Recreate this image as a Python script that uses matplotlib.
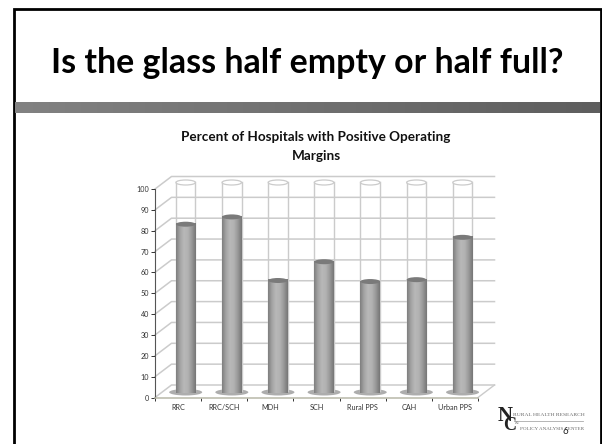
import numpy as np
import matplotlib
matplotlib.use("Agg")
import matplotlib.pyplot as plt
from matplotlib.colors import LinearSegmentedColormap
from matplotlib.patches import Ellipse, Polygon

# chart values
categories = ["RRC", "RRC/SCH", "MDH", "SCH", "Rural PPS", "CAH", "Urban PPS"]
pct_positive = [80, 83.5, 53, 62, 52.5, 53.4, 73.7]
y_ticks = [0, 10, 20, 30, 40, 50, 60, 70, 80, 90, 100]

W, H = 602, 444
plt.rcParams["font.family"] = ["Lato", "DejaVu Sans"]

# ── slide ─────────────────────────────────────────────────
fig = plt.figure(figsize=(W / 100, H / 100), dpi=100, facecolor="white")
slide = fig.add_axes([0, 0, 1, 1])
slide.set_xlim(0, W)
slide.set_ylim(H, 0)
slide.axis("off")

slide.plot([13.5, 13.5, 600.5, 600.5], [H, 9.5, 9.5, H], color="black", lw=2.0,
           solid_joinstyle="miter")
band = np.linspace(0, 1, 256).reshape(1, -1)
slide.imshow(band, extent=(15, 600, 113, 102),
             cmap=LinearSegmentedColormap.from_list("band", ["#828282", "#5e5e5e"]),
             aspect="auto", zorder=2)
slide.set_xlim(0, W)
slide.set_ylim(H, 0)

slide.text(307.5, 63, "Is the glass half empty or half full?", ha="center", va="center",
           fontsize=24.4, fontweight="bold", color="black")
slide.text(316, 137, "Percent of Hospitals with Positive Operating", ha="center", va="center",
           fontsize=9.7, fontweight="bold", color="#111111")
slide.text(316, 156, "Margins", ha="center", va="center",
           fontsize=9.7, fontweight="bold", color="#111111")

# ── logo + page number ────────────────────────────────────
serif = ["Liberation Serif", "DejaVu Serif"]
slide.text(497.5, 416, "N", family=serif, fontsize=15, fontweight="bold", color="#222222", ha="left", va="center")
slide.text(503, 425.5, "C", family=serif, fontsize=13, fontweight="bold", color="#222222", ha="left", va="center")
slide.text(513, 415, "RURAL HEALTH RESEARCH", family=serif, fontsize=3.95, color="#666666", ha="left", va="center")
slide.plot([514, 583], [420.5, 420.5], color="#aaaaaa", lw=0.6)
slide.text(514.5, 423, "&", family=serif, fontsize=3.6, color="#777777", ha="left", va="center")
slide.text(520, 429, "POLICY ANALYSIS CENTER", family=serif, fontsize=3.6, color="#666666", ha="left", va="center")
slide.text(565.5, 431.5, "6", fontsize=7, color="#222222", ha="center", va="center")

# ── chart: axes box is the front plane of the 3-D frame ───
x0, x1, y_top, y_bot = 155, 478, 189, 397.5
ax = fig.add_axes([x0 / W, 1 - y_bot / H, (x1 - x0) / W, (y_bot - y_top) / H])
ax.patch.set_alpha(0)
ax.set_xlim(0, 7)
ax.set_ylim(0, 100)
ux = (x1 - x0) / 7
uy = (y_bot - y_top) / 100

depth_x, depth_y = 16.5 / ux, 12.5 / uy   # back wall offset
mid_x, mid_y = 7.6 / ux, 6.5 / uy         # columns sit halfway back
col_w, ell_h = 19.5 / ux, 5 / uy

grid = "#cbcbcb"
for v in y_ticks:
    ax.plot([0, depth_x, 7 + depth_x], [v, v + depth_y, v + depth_y], color=grid, lw=1.1,
            clip_on=False, zorder=1)
ax.plot([7, 7 + depth_x], [0, depth_y], color=grid, lw=1.0, clip_on=False, zorder=1)

col_cmap = LinearSegmentedColormap.from_list(
    "col", ["#7f7f7f", "#a4a4a4", "#b8b8b8", "#b2b2b2", "#989898", "#767676"])
shade = np.linspace(0, 1, 64).reshape(1, -1)

for i, v in enumerate(pct_positive):
    cx = i + 0.5 + mid_x
    left, right = cx - col_w / 2, cx + col_w / 2

    # floor shadow
    ax.add_patch(Ellipse((cx, mid_y - 0.6), 33 / ux, 6.5 / uy, fc="#adadad", ec="none",
                         clip_on=False, zorder=2))

    # empty glass up to 100
    ax.plot([left, left], [mid_y, 100 + mid_y], color=grid, lw=1.0, clip_on=False, zorder=3)
    ax.plot([right, right], [mid_y, 100 + mid_y], color=grid, lw=1.0, clip_on=False, zorder=3)
    ax.add_patch(Ellipse((cx, 100 + mid_y), col_w, ell_h, fc="white", ec=grid, lw=0.9,
                         clip_on=False, zorder=3))

    # filled part
    im = ax.imshow(shade, extent=(left, right, mid_y - ell_h / 2, v + mid_y), cmap=col_cmap,
                   aspect="auto", zorder=4, clip_on=False)
    outline = Polygon([(left, mid_y), (left, v + mid_y), (right, v + mid_y), (right, mid_y),
                       (cx + col_w * 0.3, mid_y - ell_h * 0.4), (cx, mid_y - ell_h / 2),
                       (cx - col_w * 0.3, mid_y - ell_h * 0.4)],
                      transform=ax.transData, fc="none", ec="none")
    ax.add_patch(outline)
    im.set_clip_path(outline)
    ax.add_patch(Ellipse((cx, v + mid_y), col_w, ell_h, fc="#7a7a7a", ec="none",
                         clip_on=False, zorder=5))

ax.set_xlim(0, 7)
ax.set_ylim(0, 100)

for s in ("top", "right"):
    ax.spines[s].set_visible(False)
ax.spines["left"].set_color("#555555")
ax.spines["left"].set_linewidth(0.8)
ax.spines["bottom"].set_color("#b8b8a8")
ax.spines["bottom"].set_linewidth(1.1)
ax.set_yticks(y_ticks)
ax.set_xticks(range(8))
ax.set_xticklabels([])
ax.set_xticks(np.arange(7) + 0.5, labels=categories, minor=True)
ax.tick_params(axis="x", which="major", length=2.2, width=0.7, color="#333333", direction="out")
ax.tick_params(axis="x", which="minor", length=0, pad=4.5, labelsize=5.2, labelcolor="#333333")
ax.tick_params(axis="y", length=2.6, width=0.7, color="#333333", pad=1.8, labelsize=5.2, labelcolor="#333333")

fig.savefig("out.png", dpi=100)
